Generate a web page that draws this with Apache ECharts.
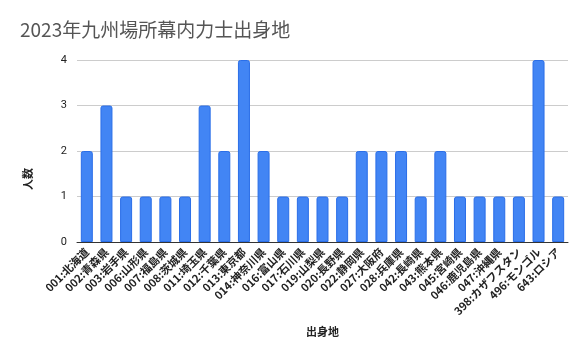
<!DOCTYPE html>
<html><head><meta charset="utf-8">
<script src="https://cdn.jsdelivr.net/npm/echarts@6/dist/echarts.min.js"></script>
<style>html,body{margin:0;padding:0;background:#fff}#c{width:586px;height:362px}</style>
</head><body><div id="c"></div>
<script>
const categories = ['001:北海道','002:青森県','003:岩手県','006:山形県','007:福島県','008:茨城県','011:埼玉県','012:千葉県','013:東京都','014:神奈川県','016:富山県','017:石川県','019:山梨県','020:長野県','022:静岡県','027:大阪府','028:兵庫県','042:長崎県','043:熊本県','045:宮崎県','046:鹿児島県','047:沖縄県','398:カザフスタン','496:モンゴル','643:ロシア'];
const counts = [2,3,1,1,1,1,3,2,4,2,1,1,1,1,2,2,2,1,2,1,1,1,1,4,1];
const yTicks = [0,1,2,3,4];
const chart = echarts.init(document.getElementById('c'));
chart.setOption({
  animation: false,
  title: {text: '2023年九州場所幕内力士出身地', left: 15, top: 15,
    textStyle: {fontFamily: 'Noto Sans CJK JP', fontSize: 19, fontWeight: 'normal', color: '#555'}},
  grid: {left: 77, right: 18, top: 60, bottom: 120},
  xAxis: {type: 'category', data: categories, name: '出身地', nameLocation: 'middle', nameGap: 84,
    nameTextStyle: {fontFamily: 'Noto Sans CJK JP', fontSize: 11, color: '#222', fontWeight: 'bold'},
    axisTick: {show: false}, axisLine: {lineStyle: {color: '#333', width: 1}},
    axisLabel: {rotate: 45, interval: 0, fontFamily: 'Noto Sans CJK JP', fontSize: 11, fontWeight: 'bold', color: '#222', margin: 8}},
  yAxis: {type: 'value', min: yTicks[0], max: yTicks[yTicks.length-1], interval: 1, name: '人数', nameLocation: 'middle', nameGap: 44,
    nameTextStyle: {fontFamily: 'Noto Sans CJK JP', fontSize: 11, color: '#222', fontWeight: 'bold', padding: [0,56,0,0]},
    axisLine: {show: false}, axisTick: {show: false},
    splitLine: {lineStyle: {color: '#ccc'}},
    axisLabel: {fontFamily: 'Roboto', fontSize: 11, color: '#222', margin: 10}},
  series: [{type: 'bar', data: counts, barWidth: 12,
    itemStyle: {color: '#4285F4', borderColor: '#2a6ee8', borderWidth: 1, borderRadius: [2,2,0,0]}}]
});
</script></body></html>
